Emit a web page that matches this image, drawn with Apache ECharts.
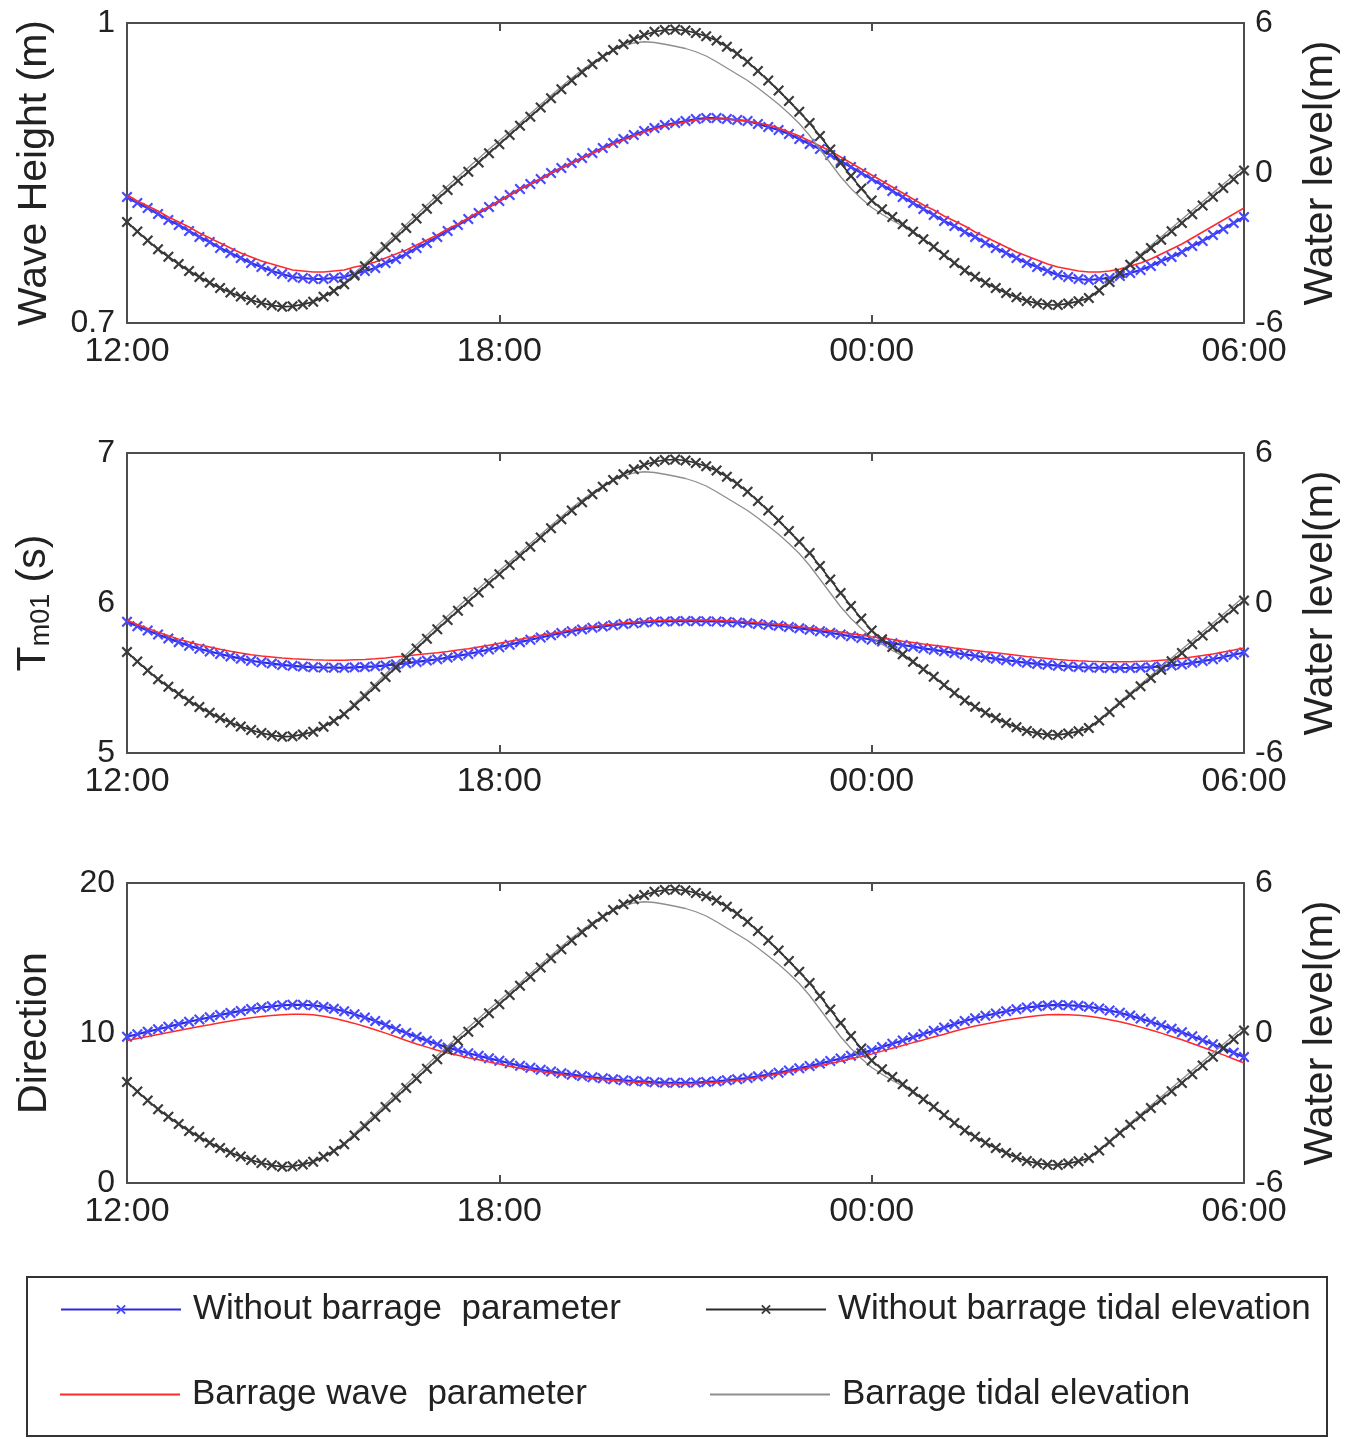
<!DOCTYPE html>
<html>
<head>
<meta charset="utf-8">
<title>Wave parameters and tidal elevation with and without barrage</title>
<script src="https://cdn.jsdelivr.net/npm/echarts@6/dist/echarts.min.js"></script>
<style>
  html, body { margin: 0; padding: 0; background: #ffffff; }
  #chart { width: 1358px; height: 1439px; }
</style>
</head>
<body>
<div id="chart"></div>
<script>
// Sampling: one value every 10 minutes from 12:00 to 06:00 (18 h)
const STEP_MINUTES = 10;
const X_TICK_LABELS = ['12:00', '18:00', '00:00', '06:00'];

// Water level (m), shared by all three panels
const WL_WITHOUT = [
  -1.96,-2.34,-2.70, -3.05,-3.35,-3.64, -3.92,-4.16,-4.39, -4.60,-4.78,-4.94, -5.08,-5.20,-5.29, -5.35,-5.33,-5.26,
  -5.15,-4.95,-4.72, -4.45,-4.10,-3.73, -3.35,-2.96,-2.58, -2.20,-1.82,-1.43, -1.05,-0.68,-0.31, 0.05,0.42,0.79,
  1.15,1.52,1.89, 2.25,2.62,2.99, 3.35,3.70,4.03, 4.35,4.65,4.92, 5.15,5.35,5.52, 5.65,5.72,5.74,
  5.70,5.60,5.47, 5.30,5.05,4.77, 4.45,4.08,3.70, 3.30,2.88,2.45, 2.00,1.48,0.94, 0.40,-0.12,-0.62,
  -1.10,-1.45,-1.76, -2.05,-2.35,-2.65, -2.95,-3.28,-3.60, -3.90,-4.15,-4.39, -4.60,-4.80,-4.97, -5.12,-5.21,-5.27,
  -5.28,-5.22,-5.13, -5.00,-4.70,-4.36, -4.00,-3.67,-3.33, -3.00,-2.67,-2.33, -2.00,-1.65,-1.30, -0.95,-0.60,-0.25,
  0.10
];
const WL_BARRAGE = [
  -1.96,-2.34,-2.70, -3.05,-3.35,-3.64, -3.92,-4.16,-4.39, -4.60,-4.78,-4.94, -5.08,-5.20,-5.29, -5.35,-5.33,-5.26,
  -5.15,-4.95,-4.70, -4.40,-4.02,-3.63, -3.24,-2.84,-2.45, -2.06,-1.67,-1.28, -0.90,-0.52,-0.15, 0.22,0.58,0.95,
  1.30,1.65,2.00, 2.38,2.74,3.10, 3.45,3.80,4.12, 4.42,4.68,4.90, 5.08,5.20,5.25, 5.22,5.15,5.07,
  4.98,4.85,4.68, 4.45,4.20,3.95, 3.70,3.40,3.08, 2.75,2.38,1.98, 1.50,0.95,0.40, -0.15,-0.62,-1.02,
  -1.38,-1.65,-1.90, -2.12,-2.38,-2.66, -2.95,-3.28,-3.60, -3.90,-4.15,-4.39, -4.60,-4.80,-4.97, -5.12,-5.21,-5.27,
  -5.28,-5.22,-5.13, -4.98,-4.66,-4.31, -3.95,-3.60,-3.25, -2.90,-2.55,-2.20, -1.85,-1.50,-1.15, -0.80,-0.45,-0.10,
  0.25
];

// Significant wave height (m)
const HS_WITHOUT = [
  .826,.820,.815, .809,.803,.798, .792,.786,.781, .775,.770,.765, .760,.756,.752, .749,.746,.745,
  .744,.744,.745, .746,.749,.752, .755,.760,.764, .769,.775,.780, .786,.792,.798, .804,.810,.816,
  .822,.828,.834, .839,.844,.850, .855,.860,.865, .870,.875,.880, .884,.888,.892, .895,.898,.900,
  .902,.904,.905, .905,.904,.903, .902,.899,.896, .893,.889,.884, .879,.874,.868, .862,.856,.850,
  .844,.838,.832, .826,.820,.814, .808,.802,.797, .791,.786,.780, .775,.770,.765, .760,.756,.752,
  .748,.746,.744, .743,.744,.745, .747,.750,.753, .757,.762,.766, .771,.777,.782, .788,.794,.800,
  .806
];
const HS_BARRAGE = [
  .828,.822,.817, .812,.806,.801, .796,.790,.785, .780,.775,.770, .766,.762,.759, .756,.753,.752,
  .751,.751,.752, .753,.756,.758, .761,.765,.769, .773,.778,.783, .788,.794,.799, .805,.811,.816,
  .822,.828,.834, .839,.844,.850, .855,.860,.865, .870,.874,.879, .883,.887,.891, .894,.897,.899,
  .901,.903,.904, .904,.904,.903, .902,.900,.898, .895,.891,.887, .882,.877,.872, .866,.860,.854,
  .848,.842,.836, .830,.824,.818, .813,.807,.802, .797,.791,.786, .781,.776,.771, .767,.763,.759,
  .756,.754,.752, .751,.751,.752, .754,.757,.760, .764,.769,.774, .779,.785,.791, .797,.803,.809,
  .815
];

// Mean wave period Tm01 (s)
const TM_WITHOUT = [
  5.875,5.845,5.817, 5.790,5.764,5.739, 5.715,5.695,5.677, 5.660,5.644,5.629, 5.615,5.605,5.596, 5.587,5.581,5.576,
  5.572,5.570,5.569, 5.568,5.571,5.574, 5.578,5.584,5.591, 5.598,5.607,5.616, 5.625,5.636,5.648, 5.660,5.675,5.690,
  5.705,5.722,5.739, 5.755,5.770,5.785, 5.800,5.812,5.824, 5.835,5.844,5.852, 5.860,5.865,5.870, 5.875,5.877,5.879,
  5.880,5.879,5.878, 5.877,5.874,5.870, 5.866,5.860,5.854, 5.848,5.840,5.831, 5.822,5.812,5.801, 5.790,5.778,5.767,
  5.755,5.743,5.732, 5.720,5.709,5.698, 5.688,5.678,5.667, 5.657,5.647,5.637, 5.628,5.619,5.610, 5.601,5.594,5.588,
  5.582,5.577,5.573, 5.570,5.568,5.567, 5.566,5.567,5.569, 5.572,5.577,5.583, 5.590,5.601,5.613, 5.625,5.640,5.655,
  5.670
];
const TM_BARRAGE = [
  5.885,5.857,5.831, 5.806,5.782,5.759, 5.740,5.722,5.707, 5.692,5.678,5.666, 5.655,5.647,5.640, 5.633,5.628,5.625,
  5.622,5.620,5.619, 5.618,5.621,5.624, 5.628,5.634,5.641, 5.647,5.655,5.662, 5.669,5.677,5.686, 5.695,5.707,5.719,
  5.731,5.745,5.759, 5.772,5.785,5.797, 5.809,5.821,5.833, 5.843,5.852,5.860, 5.868,5.873,5.878, 5.883,5.885,5.887,
  5.888,5.887,5.886, 5.885,5.882,5.878, 5.875,5.869,5.864, 5.858,5.851,5.842, 5.834,5.825,5.815, 5.806,5.795,5.786,
  5.775,5.765,5.756, 5.745,5.736,5.726, 5.718,5.710,5.700, 5.692,5.684,5.675, 5.668,5.660,5.652, 5.643,5.636,5.630,
  5.624,5.619,5.615, 5.612,5.610,5.609, 5.608,5.609,5.611, 5.614,5.619,5.624, 5.630,5.640,5.650, 5.660,5.673,5.686,
  5.700
];

// Mean wave direction (deg)
const DIR_WITHOUT = [
  9.75,9.92,10.09, 10.25,10.42,10.59, 10.75,10.90,11.05, 11.20,11.34,11.47, 11.60,11.70,11.78, 11.85,11.88,11.88,
  11.85,11.74,11.61, 11.45,11.25,11.03, 10.80,10.54,10.27, 10.00,9.74,9.49, 9.25,9.04,8.84, 8.65,8.48,8.31,
  8.15,7.98,7.82, 7.68,7.55,7.43, 7.32,7.22,7.13, 7.05,6.98,6.91, 6.85,6.80,6.76, 6.72,6.69,6.68,
  6.68,6.70,6.74, 6.78,6.85,6.92, 7.00,7.11,7.23, 7.35,7.50,7.65, 7.80,7.96,8.13, 8.30,8.48,8.66,
  8.85,9.07,9.28, 9.50,9.72,9.93, 10.15,10.37,10.59, 10.80,10.98,11.15, 11.30,11.45,11.58, 11.70,11.78,11.84,
  11.87,11.85,11.81, 11.75,11.63,11.50, 11.35,11.16,10.96, 10.75,10.52,10.29, 10.05,9.78,9.52, 9.25,8.97,8.69,
  8.40
];
const DIR_BARRAGE = [
  9.50,9.64,9.77, 9.90,10.04,10.17, 10.30,10.43,10.55, 10.68,10.80,10.91, 11.02,11.10,11.16, 11.22,11.25,11.25,
  11.22,11.11,10.98, 10.82,10.64,10.43, 10.22,9.99,9.75, 9.50,9.27,9.06, 8.85,8.67,8.51, 8.35,8.21,8.06,
  7.93,7.78,7.65, 7.53,7.43,7.33, 7.24,7.14,7.05, 6.97,6.90,6.83, 6.77,6.72,6.68, 6.64,6.61,6.60,
  6.60,6.62,6.66, 6.70,6.77,6.84, 6.92,7.03,7.15, 7.27,7.41,7.55, 7.68,7.82,7.97, 8.12,8.28,8.44,
  8.60,8.79,8.98, 9.17,9.36,9.54, 9.73,9.92,10.12, 10.30,10.46,10.60, 10.73,10.86,10.97, 11.07,11.15,11.21,
  11.24,11.22,11.18, 11.12,11.01,10.89, 10.75,10.58,10.39, 10.20,9.99,9.77, 9.55,9.30,9.05, 8.80,8.54,8.27,
  8.00
];

// Series names (legend entries)
const NAME_WITHOUT_PARAM = 'Without barrage  parameter';
const NAME_BARRAGE_PARAM = 'Barrage wave  parameter';
const NAME_WITHOUT_TIDE = 'Without barrage tidal elevation';
const NAME_BARRAGE_TIDE = 'Barrage tidal elevation';

// ---------------------------------------------------------------------------
const FONT = '"Liberation Sans", Arial, Helvetica, sans-serif';
const TEXT_COLOR = '#222';
const BOX_COLOR = '#4d4d4d';
const BLUE = '#2a2ae0';
const BLUE_MARK = '#4848ff';
const RED = '#ff2b2b';
const BLACK = '#2b2b2b';
const GREY = '#8e8e8e';
const CROSS = 'path://M0,1.4L1.4,0L5,3.6L8.6,0L10,1.4L6.4,5L10,8.6L8.6,10L5,6.4L1.4,10L0,8.6L3.6,5Z';

const hours = WL_WITHOUT.map((_, i) => i * STEP_MINUTES / 60);
const pairs = arr => arr.map((v, i) => [hours[i], v]);

const panels = [
  { top: 23,  without: HS_WITHOUT,  barrage: HS_BARRAGE,  min: 0.7, max: 1,  interval: 0.1,
    labels: [0.7, 1], name: 'Wave Height (m)' },
  { top: 453, without: TM_WITHOUT,  barrage: TM_BARRAGE,  min: 5,   max: 7,  interval: 1,
    labels: null, name: '{t|T}{s|m01}{t| (s)}' },
  { top: 883, without: DIR_WITHOUT, barrage: DIR_BARRAGE, min: 0,   max: 20, interval: 10,
    labels: null, name: 'Direction' }
];

const grid = [], xAxis = [], yAxis = [], series = [];

panels.forEach((p, k) => {
  grid.push({ left: 127, top: p.top, width: 1117, height: 300, containLabel: false });

  const xBase = {
    gridIndex: k, type: 'value', min: 0, max: 18, interval: 6,
    splitLine: { show: false },
    axisLine: { show: true, onZero: false, lineStyle: { color: BOX_COLOR, width: 2 } },
    axisTick: { show: true, inside: true, length: 8, lineStyle: { color: BOX_COLOR, width: 2 } }
  };
  xAxis.push(Object.assign({}, xBase, {
    position: 'bottom',
    axisLabel: {
      show: true, margin: 12, fontSize: 34, color: TEXT_COLOR, fontFamily: FONT,
      formatter: v => X_TICK_LABELS[Math.round(v / 6)]
    }
  }));
  xAxis.push(Object.assign({}, xBase, { position: 'top', axisLabel: { show: false } }));

  const nameStyle = { fontSize: 41, color: TEXT_COLOR, fontFamily: FONT };
  if (k === 1) {
    nameStyle.rich = {
      t: { fontSize: 41, color: TEXT_COLOR, fontFamily: FONT },
      s: { fontSize: 27, color: TEXT_COLOR, fontFamily: FONT, padding: [16, 0, 0, 0] }
    };
  }
  yAxis.push({
    gridIndex: k, type: 'value', position: 'left',
    min: p.min, max: p.max, interval: p.interval,
    splitLine: { show: false },
    axisLine: { show: true, onZero: false, lineStyle: { color: BOX_COLOR, width: 2 } },
    axisTick: { show: false },
    axisLabel: {
      margin: 12, fontSize: 32, color: TEXT_COLOR, fontFamily: FONT,
      formatter: v => {
        if (!p.labels) return String(v);
        const hit = p.labels.find(l => Math.abs(l - v) < 1e-9);
        return hit === undefined ? '' : String(hit);
      }
    },
    name: p.name, nameLocation: 'middle', nameRotate: 90, nameGap: 72,
    nameTextStyle: nameStyle
  });
  yAxis.push({
    gridIndex: k, type: 'value', position: 'right',
    min: -6, max: 6, interval: 6,
    splitLine: { show: false },
    axisLine: { show: true, onZero: false, lineStyle: { color: BOX_COLOR, width: 2 } },
    axisTick: { show: false },
    axisLabel: { margin: 11, fontSize: 32, color: TEXT_COLOR, fontFamily: FONT },
    name: 'Water level(m)', nameLocation: 'middle', nameRotate: 90, nameGap: 56,
    nameTextStyle: { fontSize: 41, color: TEXT_COLOR, fontFamily: FONT }
  });

  const xi = 2 * k, yl = 2 * k, yr = 2 * k + 1;
  series.push({
    name: NAME_WITHOUT_PARAM, type: 'line', xAxisIndex: xi, yAxisIndex: yl,
    data: pairs(p.without), symbol: CROSS, symbolSize: 11, showSymbol: true,
    lineStyle: { color: BLUE, width: 2.2 }, itemStyle: { color: BLUE_MARK }, z: 2
  });
  series.push({
    name: NAME_BARRAGE_PARAM, type: 'line', xAxisIndex: xi, yAxisIndex: yl,
    data: pairs(p.barrage), symbol: 'none',
    lineStyle: { color: RED, width: 1.5 }, itemStyle: { color: RED }, z: 3
  });
  series.push({
    name: NAME_WITHOUT_TIDE, type: 'line', xAxisIndex: xi, yAxisIndex: yr,
    data: pairs(WL_WITHOUT), symbol: CROSS, symbolSize: 11, showSymbol: true,
    lineStyle: { color: BLACK, width: 1.6 }, itemStyle: { color: '#3a3a3a' }, z: 4
  });
  series.push({
    name: NAME_BARRAGE_TIDE, type: 'line', xAxisIndex: xi, yAxisIndex: yr,
    data: pairs(WL_BARRAGE), symbol: 'none',
    lineStyle: { color: GREY, width: 1.3 }, itemStyle: { color: GREY }, z: 3
  });
});

const legendBase = {
  padding: 0, itemWidth: 120, itemHeight: 12, itemGap: 0,
  selectedMode: false,
  textStyle: { fontSize: 35, color: TEXT_COLOR, fontFamily: FONT, padding: [0, 0, 0, 7] }
};
// Plain-line entries use a thin bar icon so no marker is drawn on them
const legend = [
  Object.assign({}, legendBase, { data: [NAME_WITHOUT_PARAM], left: 60,  top: 1292 }),
  Object.assign({}, legendBase, { data: [{ name: NAME_BARRAGE_PARAM, icon: 'rect' }],
    itemHeight: 2, left: 60, top: 1377 }),
  Object.assign({}, legendBase, { data: [NAME_WITHOUT_TIDE],  left: 705, top: 1292 }),
  Object.assign({}, legendBase, { data: [{ name: NAME_BARRAGE_TIDE, icon: 'rect' }],
    itemHeight: 2, left: 710, top: 1377 })
];

const chart = echarts.init(document.getElementById('chart'), null, { renderer: 'canvas' });
chart.setOption({
  animation: false,
  backgroundColor: '#ffffff',
  textStyle: { fontFamily: FONT },
  grid, xAxis, yAxis, series, legend,
  graphic: [{
    type: 'rect', z: -1,
    shape: { x: 27, y: 1277, width: 1300, height: 159 },
    style: { fill: 'none', stroke: '#333', lineWidth: 2 }
  }]
});
</script>
</body>
</html>
